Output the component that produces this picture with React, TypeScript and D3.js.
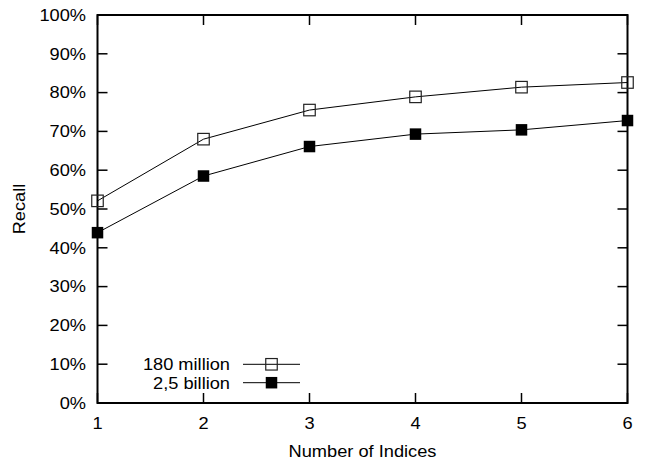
import * as d3 from "d3";

const indices = [1, 2, 3, 4, 5, 6];
const recall180m = [52.1, 68.0, 75.5, 78.9, 81.4, 82.6];
const recall25b = [43.9, 58.5, 66.1, 69.3, 70.4, 72.8];
const yTicks = [0, 10, 20, 30, 40, 50, 60, 70, 80, 90, 100];
const seriesNames = ["180 million", "2,5 billion"];

const W = 651;
const H = 461;
const M = { left: 97.5, right: 23.5, top: 15, bottom: 58 };
const FONT = "'Liberation Sans', Arial, Helvetica, sans-serif";
const FS = 16;
const SX = 1.14; // text in the reference is a bit wider than tall

// stretched text helper
const T = ({ x, y, anchor, children, rotate }: any) => (
  <g transform={`translate(${x},${y}) ${rotate ? "rotate(-90)" : ""} scale(${SX},1)`}>
    <text x={0} y={0} textAnchor={anchor} fontFamily={FONT} fontSize={FS} fill="#000">
      {children}
    </text>
  </g>
);

export default function App() {
  const x = d3.scaleLinear().domain([1, 6]).range([M.left, W - M.right]);
  const y = d3.scaleLinear().domain([0, 100]).range([H - M.bottom, M.top]);
  const line = d3
    .line<number>()
    .x((_, i) => x(indices[i]))
    .y((d) => y(d));

  const x0 = x.range()[0], x1 = x.range()[1];
  const y0 = y.range()[0], y1 = y.range()[1];
  const tick = 10;
  const sq = 11.5;

  const series = [
    { name: seriesNames[0], values: recall180m, filled: false },
    { name: seriesNames[1], values: recall25b, filled: true },
  ];

  const marker = (cx: number, cy: number, filled: boolean, key: any) => (
    <rect
      key={key}
      x={cx - sq / 2}
      y={cy - sq / 2}
      width={sq}
      height={sq}
      fill={filled ? "#000" : "none"}
      stroke={filled ? "none" : "#222"}
      strokeWidth={1.2}
    />
  );

  return (
    <svg
      width={W}
      height={H}
      style={{ position: "absolute", left: 0, top: 0, background: "#fff" }}
    >
      {/* ticks, mirrored on all sides */}
      <g stroke="#000" strokeWidth={1.5}>
        {yTicks.map((t) => (
          <g key={"y" + t}>
            <line x1={x0} x2={x0 + tick} y1={y(t)} y2={y(t)} />
            <line x1={x1} x2={x1 - tick} y1={y(t)} y2={y(t)} />
          </g>
        ))}
        {indices.map((t) => (
          <g key={"x" + t}>
            <line x1={x(t)} x2={x(t)} y1={y0} y2={y0 - tick} />
            <line x1={x(t)} x2={x(t)} y1={y1} y2={y1 + tick} />
          </g>
        ))}
      </g>
      <rect
        x={x0}
        y={y1}
        width={x1 - x0}
        height={y0 - y1}
        fill="none"
        stroke="#000"
        strokeWidth={2}
      />

      {yTicks.map((t) => (
        <T key={"yl" + t} x={86} y={y(t) + 5.8} anchor="end">
          {t + "%"}
        </T>
      ))}
      {indices.map((t) => (
        <T key={"xl" + t} x={x(t)} y={y0 + 25.5} anchor="middle">
          {t}
        </T>
      ))}
      <T x={(x0 + x1) / 2} y={456.5} anchor="middle">
        Number of Indices
      </T>
      <T x={25} y={(y0 + y1) / 2} anchor="middle" rotate>
        Recall
      </T>

      {series.map((s) => (
        <g key={s.name}>
          <path d={line(s.values) || ""} fill="none" stroke="#000" strokeWidth={1} />
          {s.values.map((v, i) => marker(x(indices[i]), y(v), s.filled, i))}
        </g>
      ))}

      {/* legend */}
      {series.map((s, i) => {
        const ly = 364.3 + i * 18.4;
        return (
          <g key={"lg" + s.name}>
            <T x={230} y={ly + 5.8} anchor="end">
              {s.name}
            </T>
            <line x1={243} x2={300} y1={ly} y2={ly} stroke="#000" strokeWidth={1} />
            {marker(271.5, ly, s.filled, "m")}
          </g>
        );
      })}
    </svg>
  );
}
